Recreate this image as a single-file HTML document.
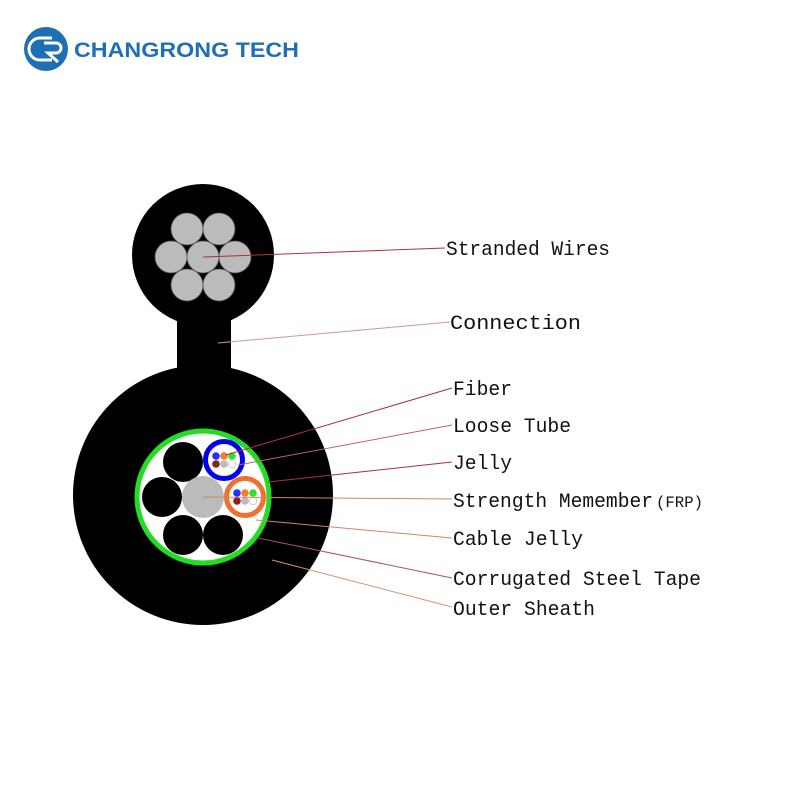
<!DOCTYPE html>
<html><head><meta charset="utf-8"><style>body{margin:0;background:#fff}svg{display:block}</style></head><body>
<svg width="800" height="800" viewBox="0 0 800 800" xmlns="http://www.w3.org/2000/svg">
<!-- logo -->
<circle cx="46" cy="49" r="22" fill="#1f6fb5"/>
<path d="M52 38 H40 a11 11 0 0 0 0 22 H52" fill="none" stroke="#fff" stroke-width="3"/>
<path d="M44 43 H56 a5 5 0 0 1 0 10 H48 L58 62" fill="none" stroke="#fff" stroke-width="3"/>
<text x="74" y="57" font-family="Liberation Sans, sans-serif" font-weight="bold" font-size="21" fill="#1f6fb5" textLength="225" lengthAdjust="spacingAndGlyphs">CHANGRONG TECH</text>
<!-- top messenger -->
<rect x="177" y="300" width="54" height="100" fill="#000"/>
<circle cx="203" cy="255" r="71" fill="#000"/>
<g fill="#bbb" stroke="#555" stroke-width="0.8">
<circle cx="203" cy="257" r="6" fill="#fff" stroke="none"/>
<circle cx="203" cy="257" r="16"/>
<circle cx="171" cy="257" r="16"/><circle cx="235" cy="257" r="16"/>
<circle cx="187" cy="229" r="16"/><circle cx="219" cy="229" r="16"/>
<circle cx="187" cy="285" r="16"/><circle cx="219" cy="285" r="16"/>
</g>
<!-- main cable -->
<circle cx="203" cy="495" r="130" fill="#000"/>
<circle cx="203" cy="497" r="66" fill="#fff" stroke="#22dd22" stroke-width="5"/>
<circle cx="183" cy="462" r="20" fill="#000"/>
<circle cx="162" cy="497" r="20" fill="#000"/>
<circle cx="183" cy="535" r="20" fill="#000"/>
<circle cx="223" cy="535" r="20" fill="#000"/>
<circle cx="203" cy="497" r="21" fill="#bbb"/>
<circle cx="224" cy="460" r="18.5" fill="#fff" stroke="#0000ee" stroke-width="5"/>
<circle cx="245" cy="497" r="18.5" fill="#fff" stroke="#f07030" stroke-width="5"/>
<g>
<circle cx="216" cy="456" r="3.8" fill="#2233ff"/><circle cx="224" cy="456" r="3.8" fill="#f08030"/><circle cx="232" cy="456" r="3.8" fill="#33dd33"/>
<circle cx="216" cy="464" r="3.8" fill="#882222"/><circle cx="224" cy="464" r="3.8" fill="#bbb"/><circle cx="232" cy="464" r="3.8" fill="#fff" stroke="#999" stroke-width=".5"/>
<circle cx="237" cy="493" r="3.8" fill="#2233ff"/><circle cx="245" cy="493" r="3.8" fill="#f08030"/><circle cx="253" cy="493" r="3.8" fill="#33dd33"/>
<circle cx="237" cy="501" r="3.8" fill="#882222"/><circle cx="245" cy="501" r="3.8" fill="#bbb"/><circle cx="253" cy="501" r="3.8" fill="#fff" stroke="#999" stroke-width=".5"/>
</g>
<!-- leaders -->
<g stroke-width="1" fill="none">
<line x1="203" y1="257" x2="445" y2="248" stroke="#a33"/>
<line x1="218" y1="343" x2="450" y2="322" stroke="#c98"/>
<line x1="226" y1="455" x2="452" y2="388" stroke="#a33"/>
<line x1="238" y1="465" x2="452" y2="425" stroke="#b66"/>
<line x1="268" y1="482" x2="452" y2="462" stroke="#a33"/>
<line x1="203" y1="497" x2="452" y2="499" stroke="#c86"/>
<line x1="256" y1="520" x2="452" y2="538" stroke="#c86"/>
<line x1="258" y1="538" x2="452" y2="578" stroke="#a55"/>
<line x1="272" y1="560" x2="452" y2="607" stroke="#c97"/>
</g>
<g font-family="Liberation Mono, monospace" font-size="20" fill="#111">
<text x="446" y="255" textLength="164" lengthAdjust="spacingAndGlyphs">Stranded Wires</text>
<text x="450" y="329" textLength="131" lengthAdjust="spacingAndGlyphs">Connection</text>
<text x="453" y="395" textLength="59" lengthAdjust="spacingAndGlyphs">Fiber</text>
<text x="453" y="432" textLength="118" lengthAdjust="spacingAndGlyphs">Loose Tube</text>
<text x="453" y="469" textLength="59" lengthAdjust="spacingAndGlyphs">Jelly</text>
<text x="453" y="507" textLength="200" lengthAdjust="spacingAndGlyphs">Strength Memember</text>
<text x="656" y="507" font-size="16" textLength="47" lengthAdjust="spacingAndGlyphs">(FRP)</text>
<text x="453" y="545" textLength="130" lengthAdjust="spacingAndGlyphs">Cable Jelly</text>
<text x="453" y="585" textLength="248" lengthAdjust="spacingAndGlyphs">Corrugated Steel Tape</text>
<text x="453" y="615" textLength="142" lengthAdjust="spacingAndGlyphs">Outer Sheath</text>
</g>
</svg>
</body></html>
